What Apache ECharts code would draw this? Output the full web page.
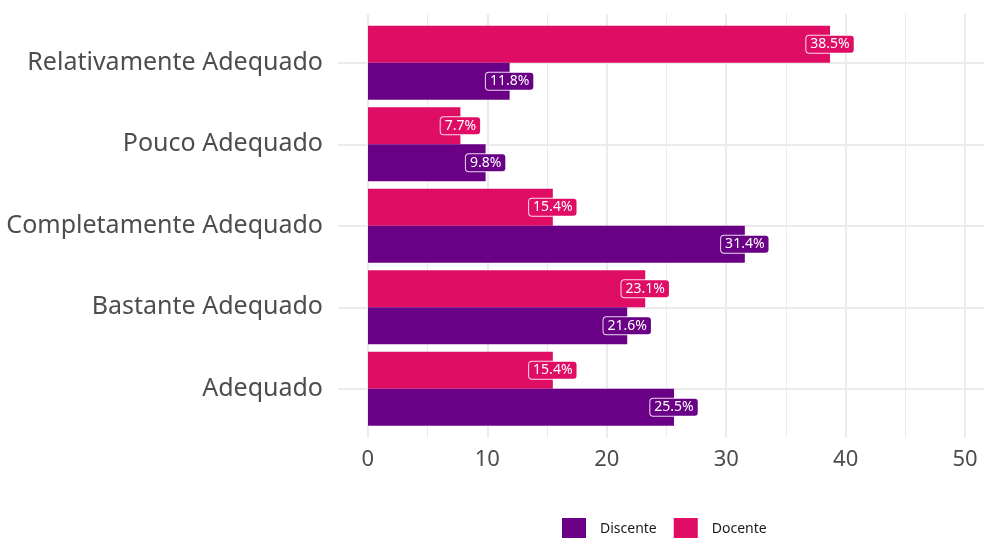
<!DOCTYPE html>
<html><head><meta charset="utf-8">
<script src="https://cdn.jsdelivr.net/npm/echarts@6/dist/echarts.min.js"></script>
<style>html,body{margin:0;padding:0;background:#fff}#c{width:984px;height:538px}</style>
</head><body><div id="c"></div>
<script>
const categories = ['Adequado','Bastante Adequado','Completamente Adequado','Pouco Adequado','Relativamente Adequado'];
const discente = [25.5, 21.6, 31.4, 9.8, 11.8];
const docente = [15.4, 23.1, 15.4, 7.7, 38.5];
const xTicks = [0, 10, 20, 30, 40, 50];

const FONT = 'Noto Sans';
const C_DIS = '#690085';
const C_DOC = '#DF0D63';
const GRID = '#EBEBEB';
const X_MIN = -2.5, X_MAX = 51.33;

function lbl(color){
  return {
    show: true,
    position: ['100%','50%'],
    align: 'center', verticalAlign: 'middle',
    formatter: p => p.value.toFixed(1) + '%',
    color: '#fff', fontFamily: FONT, fontSize: 14,
    backgroundColor: color,
    borderColor: 'rgba(255,255,255,0.85)', borderWidth: 1, borderRadius: 3,
    padding: [2, 4, 1, 4]
  };
}

const chart = echarts.init(document.getElementById('c'), null, {renderer:'canvas'});
chart.setOption({
  animation: false,
  textStyle: {fontFamily: FONT},
  legend: {
    data: ['Discente','Docente'],
    left: 562, top: 518, padding: 0,
    itemWidth: 24, itemHeight: 23, itemGap: 17,
    icon: 'rect',
    textStyle: {fontFamily: FONT, fontSize: 14, color: '#1a1a1a', padding:[0,0,0,9]}
  },
  grid: [
    {left: 338, right: 0, top: 14, bottom: 100, containLabel: false},
    {left: 338, right: 0, top: 22, height: 407.5, containLabel: false}
  ],
  xAxis: [
    {gridIndex: 0, type: 'value', min: X_MIN, max: X_MAX, interval: 2.5,
     axisLine: {show:false}, axisTick: {show:false},
     axisLabel: {fontFamily: FONT, fontSize: 22, color: '#4D4D4D', margin: 11,
       formatter: v => xTicks.includes(v) ? String(v) : ''},
     splitLine: {show: true, lineStyle: {width: 2, color: ['rgba(0,0,0,0)', GRID, 'rgba(0,0,0,0)', 'rgba(0,0,0,0)']}}},
    {gridIndex: 0, type: 'value', min: X_MIN, max: X_MAX, interval: 2.5,
     axisLine: {show:false}, axisTick: {show:false}, axisLabel: {show:false},
     splitLine: {show: true, lineStyle: {width: 1, color: ['rgba(0,0,0,0)', 'rgba(0,0,0,0)', 'rgba(0,0,0,0)', GRID]}}},
    {gridIndex: 1, type: 'value', min: X_MIN, max: X_MAX,
     axisLine: {show:false}, axisTick: {show:false}, axisLabel: {show:false}, splitLine: {show:false}}
  ],
  yAxis: [
    {gridIndex: 0, type: 'category', data: categories, show: false},
    {gridIndex: 1, type: 'category', data: categories,
     axisLine: {show:false}, axisTick: {show:false},
     axisLabel: {fontFamily: FONT, fontSize: 25, color: '#4D4D4D', margin: 15},
     splitLine: {show: true, alignWithLabel: true, lineStyle: {width: 2, color: GRID}}}
  ],
  series: [
    {name: 'Docente', type: 'bar', xAxisIndex: 2, yAxisIndex: 1, data: docente,
     itemStyle: {color: C_DOC}, barGap: '0%', barCategoryGap: '9%', label: lbl(C_DOC)},
    {name: 'Discente', type: 'bar', xAxisIndex: 2, yAxisIndex: 1, data: discente,
     itemStyle: {color: C_DIS}, barGap: '0%', barCategoryGap: '9%', label: lbl(C_DIS)}
  ]
});
</script></body></html>
